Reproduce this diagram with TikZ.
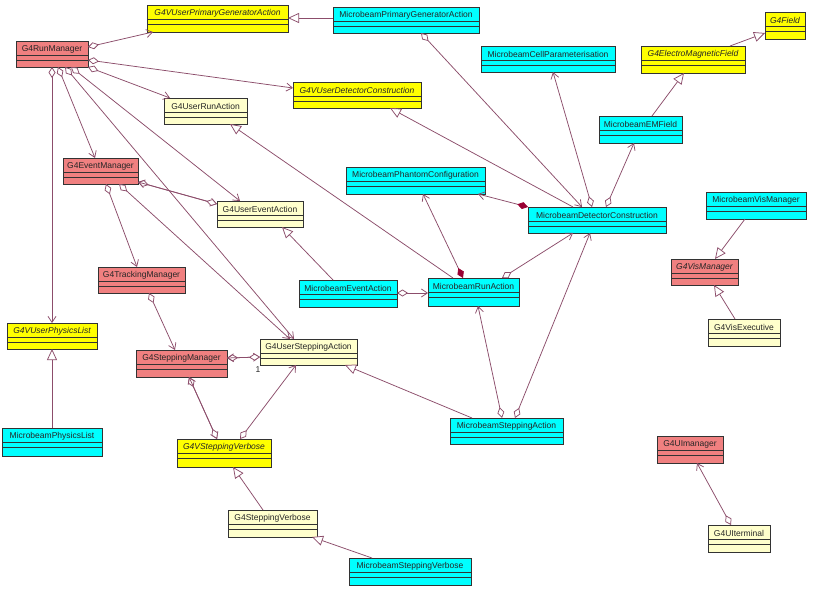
\documentclass[tikz,border=0pt]{standalone}
\usepackage{fontspec}
\setmainfont{Liberation Sans}
\usetikzlibrary{arrows.meta,calc}
\definecolor{cred}{HTML}{F08080}
\definecolor{cyel}{HTML}{FFFF00}
\definecolor{ccyan}{HTML}{00FFFF}
\definecolor{ccream}{HTML}{FFFFCC}
\definecolor{linec}{HTML}{8C4D6B}
\definecolor{compc}{HTML}{990033}
\definecolor{bord}{HTML}{333333}
\tikzset{
 classbox/.style={draw=bord, line width=0.8pt, inner sep=0pt, outer sep=0pt, anchor=north west},
 sepline/.style={draw=bord, line width=0.7pt},
 lbl/.style={font=\fontsize{8.5}{10}\selectfont, text=black!85, inner sep=0pt},
 ilbl/.style={font=\fontsize{8.5}{10}\selectfont\itshape, text=black!85, inner sep=0pt},
 conn/.style={draw=linec, line width=0.75pt},
 assoc/.style={conn, {Diamond[fill=white,length=11pt,width=7pt]}-{Straight Barb[length=6pt,width=8pt]}},
 compo/.style={conn, {Diamond[color=compc,length=11pt,width=7pt]}-{Straight Barb[length=6pt,width=8pt]}},
 gen/.style={conn, -{Triangle[fill=white,length=11pt,width=10pt]}},
}
\newcommand\umlclass[8]{%
  \node[classbox, fill=#6, minimum width={#4pt-#2pt}, minimum height={#5pt-#3pt}] (#1) at (#2,#3) {};
  \draw[sepline] ($(#1.north west)+(0,14)$) -- ($(#1.north east)+(0,14)$);
  \draw[sepline] ($(#1.north west)+(0,19.5)$) -- ($(#1.north east)+(0,19.5)$);
  \node[#8] at ($(#1.north)+(0,8)$) {#7};
}
\begin{document}
\begin{tikzpicture}[x=1pt,y=-1pt]
\fill[white] (0,0) rectangle (813,591);
\useasboundingbox (0,0) rectangle (813,591);
% classes
\umlclass{rm}{16}{41}{88}{67}{cred}{G4RunManager}{lbl}
\umlclass{pga}{147}{5}{288}{32}{cyel}{G4VUserPrimaryGeneratorAction}{ilbl}
\umlclass{mpga}{333}{7}{479}{33}{ccyan}{MicrobeamPrimaryGeneratorAction}{lbl}
\umlclass{udc}{293}{82}{421}{108}{cyel}{G4VUserDetectorConstruction}{ilbl}
\umlclass{ura}{164}{98}{247}{124}{ccream}{G4UserRunAction}{lbl}
\umlclass{em}{63}{158}{138}{184}{cred}{G4EventManager}{lbl}
\umlclass{mpc}{346}{167}{485}{194}{ccyan}{MicrobeamPhantomConfiguration}{lbl}
\umlclass{mcp}{481}{46}{615}{72}{ccyan}{MicrobeamCellParameterisation}{lbl}
\umlclass{emf}{641}{46}{745}{73}{cyel}{G4ElectroMagneticField}{ilbl}
\umlclass{fld}{765}{12}{805}{39}{cyel}{G4Field}{ilbl}
\umlclass{memf}{599}{116}{682}{143}{ccyan}{MicrobeamEMField}{lbl}
\umlclass{mdc}{528}{207}{666}{233}{ccyan}{MicrobeamDetectorConstruction}{lbl}
\umlclass{mvm}{706}{192}{806}{219}{ccyan}{MicrobeamVisManager}{lbl}
\umlclass{vm}{671}{259}{738}{285}{cred}{G4VisManager}{ilbl}
\umlclass{ve}{708}{319}{780}{346}{ccream}{G4VisExecutive}{lbl}
\umlclass{uea}{217}{201}{303}{227}{ccream}{G4UserEventAction}{lbl}
\umlclass{tm}{98}{267}{185}{293}{cred}{G4TrackingManager}{lbl}
\umlclass{mea}{299}{280}{397}{307}{ccyan}{MicrobeamEventAction}{lbl}
\umlclass{mra}{428}{278}{519}{306}{ccyan}{MicrobeamRunAction}{lbl}
\umlclass{upl}{7}{323}{97}{349}{cyel}{G4VUserPhysicsList}{ilbl}
\umlclass{sm}{136}{350}{227}{377}{cred}{G4SteppingManager}{lbl}
\umlclass{usa}{260}{339}{357}{365}{ccream}{G4UserSteppingAction}{lbl}
\umlclass{mpl}{2}{428}{102}{456}{ccyan}{MicrobeamPhysicsList}{lbl}
\umlclass{vsv}{177}{439}{271}{467}{cyel}{G4VSteppingVerbose}{ilbl}
\umlclass{sv}{228}{510}{317}{537}{ccream}{G4SteppingVerbose}{lbl}
\umlclass{msv}{349}{558}{471}{585}{ccyan}{MicrobeamSteppingVerbose}{lbl}
\umlclass{msa}{450}{418}{563}{444}{ccyan}{MicrobeamSteppingAction}{lbl}
\umlclass{uim}{657}{436}{723}{463}{cred}{G4UImanager}{lbl}
\umlclass{uit}{708}{525}{770}{552}{ccream}{G4UIterminal}{lbl}
% G4RunManager associations
\draw[assoc] ($(rm.north west)+(72,6)$) -- ($(pga.north west)+(6,27)$);
\draw[assoc] ($(rm.north west)+(72,19)$) -- ($(udc.north west)+(0,6)$);
\draw[assoc] (rm.south east) -- ($(ura.north west)+(6,0)$);
\draw[assoc] ($(rm.north west)+(36,26)$) -- ($(upl.north west)+(45,0)$);
\draw[assoc] ($(rm.north west)+(42,26)$) -- ($(em.north west)+(32,0)$);
\draw[assoc] ($(rm.north west)+(49,26)$) -- ($(usa.north west)+(34,0)$);
\draw[assoc] ($(rm.north west)+(55,26)$) -- ($(uea.north west)+(23,0)$);
% G4EventManager
\draw[assoc] ($(em.north west)+(43,26)$) -- ($(tm.north west)+(39,0)$);
\draw[assoc] ($(em.north west)+(56,26)$) -- ($(usa.north west)+(30,0)$);
\draw[assoc] ($(em.north west)+(75,24)$) -- ($(uea.north west)+(0,3)$);
\draw[assoc] ($(uea.north west)+(0,3)$) -- ($(em.north west)+(75,24)$);
% tracking / stepping
\draw[assoc] ($(tm.north west)+(51,26)$) -- ($(sm.north west)+(39,0)$);
\draw[assoc] ($(sm.north west)+(91,8)$) -- ($(usa.north west)+(0,18)$);
\draw[assoc] ($(usa.north west)+(0,18)$) -- ($(sm.north west)+(91,8)$);
\node[lbl] (one) at ($(usa.south west)+(-2,5)$) {1};
\draw[assoc] ($(sm.north west)+(53,27)$) -- ($(vsv.north west)+(40,0)$);
\draw[assoc] ($(vsv.north west)+(40,0)$) -- ($(sm.north west)+(53,27)$);
\draw[assoc] ($(vsv.north west)+(63,0)$) -- ($(usa.north west)+(36,26)$);
% generalizations
\draw[gen] ($(mpga.north west)+(0,11)$) -- ($(pga.north west)+(141,13)$);
\draw[gen] ($(mdc.north west)+(45,0)$) -- ($(udc.north west)+(97,26)$);
\draw[gen] ($(mra.north west)+(25,0)$) -- ($(ura.north west)+(66,26)$);
\draw[gen] ($(mea.north west)+(34,0)$) -- ($(uea.north west)+(65,26)$);
\draw[gen] ($(msa.north west)+(22,0)$) -- ($(usa.north west)+(85,26)$);
\draw[gen] ($(sv.north west)+(35,0)$) -- ($(vsv.north west)+(56,28)$);
\draw[gen] ($(msv.north west)+(23,0)$) -- ($(sv.north west)+(84,27)$);
\draw[gen] ($(mpl.north west)+(50,0)$) -- ($(upl.north west)+(45,26)$);
\draw[gen] ($(memf.north west)+(53,0)$) -- ($(emf.north west)+(43,27)$);
\draw[gen] ($(emf.north west)+(89,0)$) -- ($(fld.north west)+(0,21)$);
\draw[gen] ($(mvm.north west)+(39,27)$) -- ($(vm.north west)+(44,0)$);
\draw[gen] ($(ve.north west)+(27,0)$) -- ($(vm.north west)+(43,26)$);
% Microbeam associations
\draw[assoc] ($(msa.north west)+(52,0)$) -- ($(mra.north west)+(50,28)$);
\draw[assoc] ($(msa.north west)+(65,0)$) -- ($(mdc.north west)+(62,26)$);
\draw[assoc] ($(mea.north west)+(98,13)$) -- ($(mra.north west)+(0,15)$);
\draw[compo] ($(mra.north west)+(35,0)$) -- ($(mpc.north west)+(77,27)$);
\draw[assoc] ($(mra.north west)+(74,0)$) -- ($(mdc.north west)+(45,26)$);
\draw[compo] (mdc.north west) -- ($(mpc.north west)+(132,27)$);
\draw[assoc] ($(mpga.north west)+(88,26)$) -- ($(mdc.north west)+(54,0)$);
\draw[assoc] ($(mdc.north west)+(64,0)$) -- ($(mcp.north west)+(72,26)$);
\draw[assoc] ($(mdc.north west)+(78,0)$) -- ($(memf.north west)+(35,27)$);
\draw[assoc] ($(uit.north west)+(23,0)$) -- ($(uim.north west)+(40,27)$);
\end{tikzpicture}
\end{document}
